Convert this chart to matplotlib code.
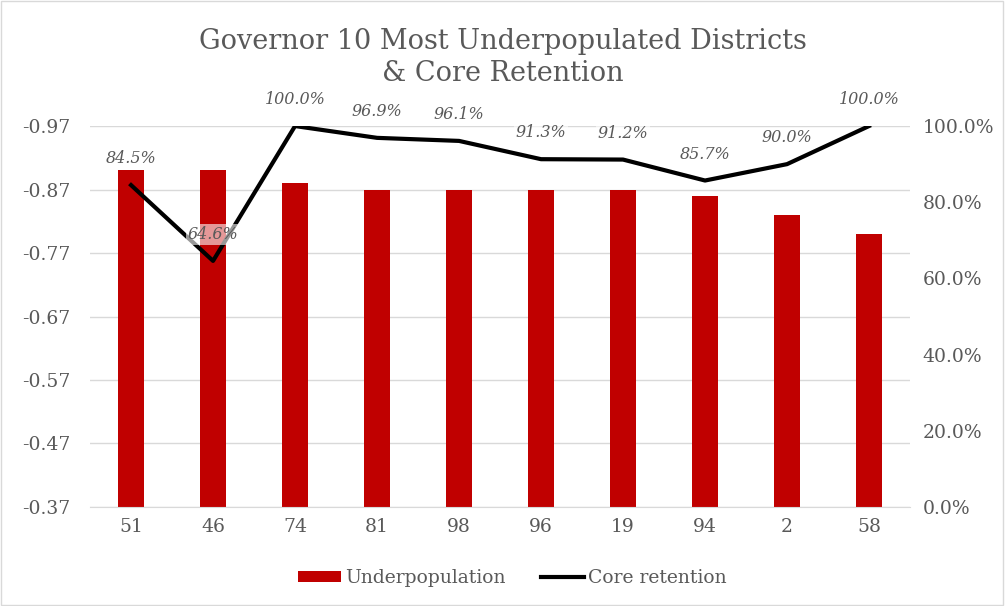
import numpy as np
import matplotlib
matplotlib.use("Agg")
import matplotlib.pyplot as plt
from matplotlib.patches import Rectangle

# data
districts = ["51", "46", "74", "81", "98", "96", "19", "94", "2", "58"]
underpop = [-0.90, -0.90, -0.88, -0.87, -0.87, -0.87, -0.87, -0.86, -0.83, -0.80]
retention = [84.5, 64.6, 100.0, 96.9, 96.1, 91.3, 91.2, 85.7, 90.0, 100.0]
left_ticks = [-0.97, -0.87, -0.77, -0.67, -0.57, -0.47, -0.37]
right_ticks = [0, 20, 40, 60, 80, 100]

gray = "#595959"
plt.rcParams["font.family"] = ["DejaVu Serif"]

fig = plt.figure(figsize=(10.05, 6.06), dpi=100)
ax = fig.add_axes([0.0896, 0.1634, 0.8159, 0.6286])
ax2 = ax.twinx()

x = np.arange(len(districts))
base = -0.37
ax.bar(x, np.array(underpop) - base, bottom=base, width=0.31,
       color="#C00000", label="Underpopulation", zorder=2)
ax.set_ylim(-0.37, -0.97)
ax.set_yticks(left_ticks)
ax.set_yticklabels([f"{t:.2f}" for t in left_ticks])
ax.set_xlim(-0.5, len(districts) - 0.5)
ax.set_xticks(x)
ax.set_xticklabels(districts)
ax.grid(axis="y", color="#d9d9d9", lw=1, zorder=0)
ax.set_axisbelow(True)

line, = ax2.plot(x, np.array(retention) / 100, color="black", lw=3,
                 label="Core retention", zorder=3)
ax2.set_ylim(0, 1)
ax2.set_yticks([t / 100 for t in right_ticks])
ax2.set_yticklabels([f"{t:.1f}%" for t in right_ticks])

for xi, v in zip(x, retention):
    ax2.annotate(f"{v:.1f}%", (xi, v / 100), xytext=(0, 19),
                 textcoords="offset points", ha="center", va="center",
                 fontsize=11.5, style="italic", color=gray,
                 bbox=dict(boxstyle="square,pad=0.1", fc="white", ec="none", alpha=0.6))

for a in (ax, ax2):
    for s in a.spines.values():
        s.set_visible(False)
    a.tick_params(length=0, colors=gray, labelsize=13.5)
ax.spines["bottom"].set_visible(True)
ax.spines["bottom"].set_color("#d9d9d9")
ax.tick_params(axis="y", pad=14)
ax.tick_params(axis="x", pad=8)
ax2.tick_params(axis="y", pad=9)

fig.suptitle("Governor 10 Most Underpopulated Districts\n& Core Retention",
             y=0.953, fontsize=19.5, color=gray, linespacing=1.22)

h1, l1 = ax.get_legend_handles_labels()
fig.legend(h1 + [line], l1 + ["Core retention"], loc="center",
           bbox_to_anchor=(0.51, 0.046), ncol=2, frameon=False,
           fontsize=13.5, labelcolor=gray, handlelength=2.3, handleheight=0.6,
           handletextpad=0.2, columnspacing=1.9)

fig.patches.append(Rectangle((0.001, 0.001), 0.997, 0.997, transform=fig.transFigure,
                             fill=False, ec="#d9d9d9", lw=1))

fig.savefig("out.png", dpi=100)
